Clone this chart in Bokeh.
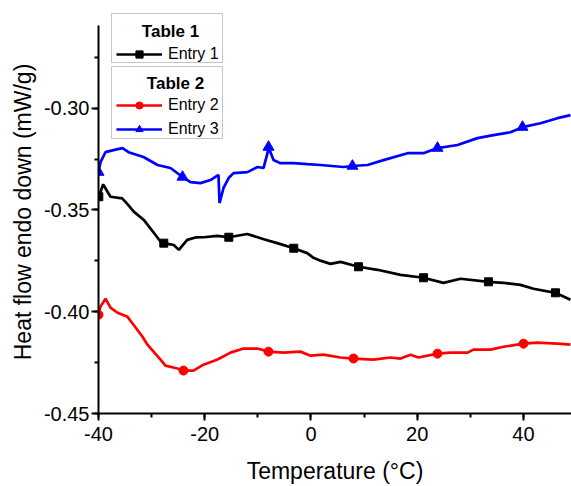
from bokeh.plotting import figure
from bokeh.models import (Legend, LegendItem, SingleIntervalTicker,
                          PrintfTickFormatter, Range1d, BoxAnnotation, Label)
from bokeh.embed import file_html
from bokeh.resources import INLINE

# ---------------- data ----------------
# Entry 1 (black, squares)
e1_x = [-39.94, -39.12, -38.5, -37.74, -35.54, -34.54, -33.36, -31.47, -29.27,
        -28.33, -27.71, -25.83, -24.88, -23.30, -21.74, -20.18, -17.66, -15.47,
        -12.0, -8.88, -6.36, -3.24, -0.71, 0.47, 1.79, 3.67, 5.55, 8.94, 12.52,
        16.85, 21.18, 24.94, 28.14, 33.41, 36.24, 39.44, 41.88, 46.02, 48.85]
e1_y = [-0.3435, -0.3374, -0.3402, -0.3435, -0.3443, -0.3471, -0.3508, -0.3549,
        -0.3623, -0.3655, -0.3663, -0.3672, -0.3696, -0.3647, -0.3635, -0.3634,
        -0.3627, -0.3634, -0.3618, -0.3644, -0.3663, -0.3688, -0.3712, -0.3735,
        -0.3749, -0.3765, -0.3755, -0.3779, -0.3794, -0.3819, -0.3833, -0.3858,
        -0.3838, -0.3853, -0.3858, -0.3868, -0.3887, -0.3907, -0.3941]
e1_mx = [-39.94, -27.71, -15.47, -3.24, 8.94, 21.18, 33.41, 46.02]
e1_my = [-0.3435, -0.3663, -0.3634, -0.3688, -0.3779, -0.3833, -0.3853, -0.3907]

# Entry 2 (red, circles)
e2_x = [-40.0, -39.62, -38.68, -37.74, -36.42, -34.54, -33.41, -31.72, -30.78,
        -28.33, -27.39, -25.13, -24.0, -22.12, -20.24, -17.6, -15.15, -12.71,
        -10.07, -8.0, -5.18, -1.98, -0.09, 2.35, 5.55, 8.0, 11.76, 14.96, 16.85,
        18.73, 20.24, 23.81, 26.26, 29.46, 30.59, 33.79, 36.24, 40.0, 42.64,
        46.4, 48.85]
e2_y = [-0.4015, -0.3975, -0.3936, -0.3980, -0.4005, -0.4025, -0.4064, -0.4123,
        -0.4162, -0.4235, -0.4265, -0.4279, -0.4289, -0.4289, -0.4260, -0.4235,
        -0.4201, -0.4181, -0.4181, -0.4196, -0.4201, -0.4196, -0.4216, -0.4211,
        -0.4225, -0.4230, -0.4235, -0.4225, -0.4230, -0.4211, -0.4225, -0.4206,
        -0.4201, -0.4201, -0.4186, -0.4186, -0.4172, -0.4157, -0.4152, -0.4157,
        -0.4162]
e2_mx = [-40.0, -24.0, -8.0, 8.0, 23.81, 40.0]
e2_my = [-0.4015, -0.4289, -0.4196, -0.4230, -0.4206, -0.4157]

# Entry 3 (blue, triangles)
e3_x = [-40.0, -39.62, -38.68, -37.18, -35.48, -34.35, -31.53, -28.89, -26.45,
        -24.19, -22.68, -20.8, -18.92, -17.41, -17.22, -16.47, -15.5, -14.59,
        -11.95, -10.07, -8.94, -8.19, -8.0, -7.06, -5.74, -3.29, -0.66, 1.79,
        6.12, 7.8, 10.64, 13.65, 18.17, 21.18, 23.81, 27.58, 31.34, 34.35,
        37.55, 39.81, 43.2, 46.4, 48.85]
e3_y = [-0.3314, -0.3265, -0.3216, -0.3206, -0.3196, -0.3216, -0.3240, -0.3279,
        -0.3294, -0.3338, -0.3363, -0.3368, -0.3353, -0.3328, -0.3466, -0.3392,
        -0.3343, -0.3319, -0.3314, -0.3289, -0.3294, -0.3221, -0.3191, -0.3255,
        -0.3270, -0.3270, -0.3275, -0.3279, -0.3289, -0.3284, -0.3279, -0.3255,
        -0.3221, -0.3221, -0.3196, -0.3181, -0.3147, -0.3132, -0.3118, -0.3093,
        -0.3074, -0.3049, -0.3034]
e3_mx = [-40.0, -24.19, -8.0, 7.8, 23.81, 39.81]
e3_my = [-0.3314, -0.3338, -0.3191, -0.3284, -0.3196, -0.3093]

x_label = "Temperature (°C)"
y_label = "Heat flow endo down (mW/g)"
legend1_title = "Table 1"
legend2_title = "Table 2"
names = ["Entry 1", "Entry 2", "Entry 3"]

FONT = "Liberation Sans"
Y_AXIS_TOP = -0.2593

p = figure(width=571, height=486, output_backend="svg", toolbar_location=None,
           x_range=Range1d(-40, 49.04), y_range=Range1d(-0.45, -0.2520),
           min_border_left=98, min_border_right=0, min_border_top=10,
           min_border_bottom=72)
p.grid.visible = False
p.outline_line_color = None
p.background_fill_color = "white"
p.border_fill_color = "white"

LW = 2.7
l1 = p.line(e1_x, e1_y, line_color="black", line_width=LW)
m1 = p.scatter(e1_mx, e1_my, marker="square", size=8, color="black")
l2 = p.line(e2_x, e2_y, line_color="#ff0000", line_width=LW)
m2 = p.scatter(e2_mx, e2_my, marker="circle", size=9, color="#ff0000")
l3 = p.line(e3_x, e3_y, line_color="#0000ff", line_width=LW)
m3 = p.scatter(e3_mx, e3_my, marker="triangle", size=11, color="#0000ff")

p.xaxis.ticker = SingleIntervalTicker(interval=20, num_minor_ticks=2)
p.yaxis.ticker = SingleIntervalTicker(interval=0.05, num_minor_ticks=2)
p.yaxis.formatter = PrintfTickFormatter(format="%.2f")
p.xaxis.formatter = PrintfTickFormatter(format="%d")
p.yaxis.bounds = (-0.45, Y_AXIS_TOP)

for ax in (p.xaxis, p.yaxis):
    ax.axis_line_width = 2
    ax.axis_line_color = "black"
    ax.major_tick_line_width = 2
    ax.minor_tick_line_width = 2
    ax.major_tick_line_color = "black"
    ax.minor_tick_line_color = "black"
    ax.major_tick_out = 7
    ax.major_tick_in = 0
    ax.minor_tick_out = 4
    ax.minor_tick_in = 0
    ax.major_label_text_font = FONT
    ax.major_label_text_font_size = "20px"
    ax.major_label_text_color = "black"
    ax.axis_label_text_font = FONT
    ax.axis_label_text_font_size = "23px"
    ax.axis_label_text_font_style = "normal"
    ax.axis_label_text_color = "black"

p.xaxis.axis_label = x_label
p.yaxis.axis_label = y_label
p.xaxis.major_label_standoff = 6
p.xaxis.axis_label_standoff = 14
p.xaxis.axis_label_text_line_height = 0.85
p.yaxis.major_label_standoff = 2
p.yaxis.axis_label_standoff = 5

# ---- legend boxes (screen units, relative to the plot frame) ----
BOX_KW = dict(left_units="screen", right_units="screen", top_units="screen",
              bottom_units="screen", fill_color="white", fill_alpha=1,
              line_color="#404040", line_width=1, level="annotation")
box1 = BoxAnnotation(left=13, right=124, top=400, bottom=351, **BOX_KW)
box2 = BoxAnnotation(left=13, right=124, top=347, bottom=275, **BOX_KW)
p.add_layout(box1)
p.add_layout(box2)

TITLE_KW = dict(x_units="screen", y_units="screen", text_align="center",
                text_baseline="middle", text_font=FONT,
                text_font_size="17px", text_font_style="bold",
                text_color="black")
p.add_layout(Label(x=72, y=382, text=legend1_title, **TITLE_KW))
p.add_layout(Label(x=77, y=330, text=legend2_title, **TITLE_KW))


def make_legend(items, loc):
    leg = Legend(items=items, location=loc, orientation="vertical")
    leg.label_text_font = FONT
    leg.label_text_font_size = "16px"
    leg.label_text_color = "black"
    leg.glyph_width = 46
    leg.glyph_height = 18
    leg.label_height = 18
    leg.label_standoff = 6
    leg.spacing = 6
    leg.padding = 3
    leg.margin = 0
    leg.border_line_color = None
    leg.background_fill_alpha = 0
    return leg


leg1 = make_legend([LegendItem(label=names[0], renderers=[l1, m1])], (18, 350))
leg2 = make_legend([LegendItem(label=names[1], renderers=[l2, m2]),
                    LegendItem(label=names[2], renderers=[l3, m3])], (18, 275))
p.add_layout(leg1)
p.add_layout(leg2)

open("out.html", "w").write(file_html(p, INLINE))
